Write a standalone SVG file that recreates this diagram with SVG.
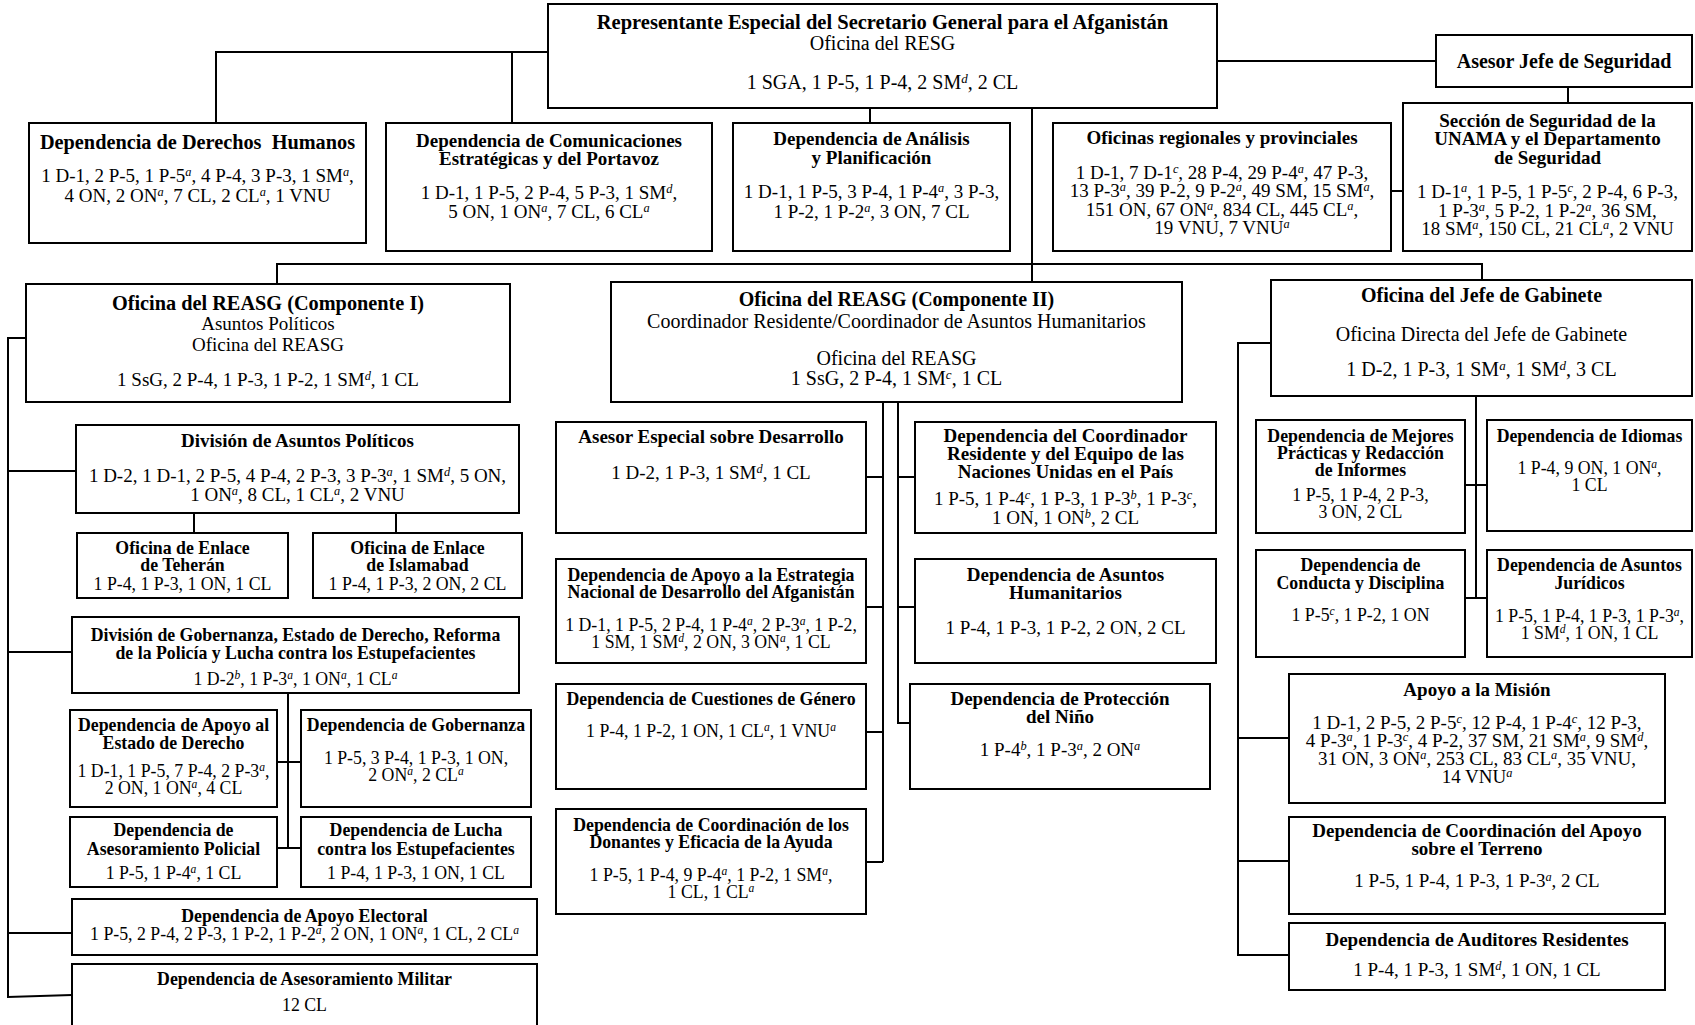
<svg xmlns="http://www.w3.org/2000/svg" width="1695" height="1025" viewBox="0 0 1695 1025">
<style>
.bx{fill:#fff;stroke:#000;stroke-width:2}
text{font-family:"Liberation Serif","Times New Roman",serif;text-anchor:middle;fill:#000}
.f20{font-size:20px}.f19{font-size:19px}.f18{font-size:17.8px}
.h{font-weight:bold}
.s{font-size:65%;font-style:italic}
#connectors path{fill:none;stroke:#000;stroke-width:2}
</style>
<rect width="1695" height="1025" fill="#fff"/>
<g id="connectors">
<path d="M216,123 V52 H548"/>
<path d="M512,52 V123"/>
<path d="M870,108 V123"/>
<path d="M1217,61 H1436"/>
<path d="M1568,87 V103"/>
<path d="M1391,191 H1403"/>
<path d="M1032,108 V282"/>
<path d="M277,284 V264 H1482 V280"/>
<path d="M26,338 H8 V997 L72,995"/>
<path d="M8,471 H76"/>
<path d="M8,652 H72"/>
<path d="M8,933 H72"/>
<path d="M194,513 V533"/>
<path d="M396,513 V533"/>
<path d="M288,693 V848"/>
<path d="M277,762 H301"/>
<path d="M277,848 H301"/>
<path d="M883,402 V862"/>
<path d="M866,477 H883"/>
<path d="M866,607 H883"/>
<path d="M866,732 H883"/>
<path d="M866,862 H883"/>
<path d="M898,402 V723 H910"/>
<path d="M898,477 H915"/>
<path d="M898,607 H915"/>
<path d="M1271,343 H1238 V955 H1289"/>
<path d="M1238,738 H1289"/>
<path d="M1238,861 H1289"/>
<path d="M1476,396 V598"/>
<path d="M1465,485 H1487"/>
<path d="M1465,598 H1487"/>
</g>

<g id="n-resg">
<rect class="bx" x="548" y="4" width="669" height="104"/>
<text class="h" style="font-size:20.5px" x="882.5" y="29">Representante Especial del Secretario General para el Afganistán</text>
<text class="f20" x="882.5" y="50">Oficina del RESG</text>
<text class="f20" x="882.5" y="89">1 SGA, 1 P-5, 1 P-4, 2 SM<tspan class="s" dy="-6">d</tspan><tspan dy="6">, 2 CL</tspan></text>
</g>

<g id="n-asesor-seguridad">
<rect class="bx" x="1436" y="35" width="256" height="52"/>
<text class="f20 h" x="1564" y="68">Asesor Jefe de Seguridad</text>
</g>

<g id="n-seccion-seguridad">
<rect class="bx" x="1403" y="103" width="289" height="148"/>
<text class="f19 h" x="1547.5" y="127">Sección de Seguridad de la</text>
<text class="f19 h" x="1547.5" y="145">UNAMA y el Departamento</text>
<text class="f19 h" x="1547.5" y="164">de Seguridad</text>
<text class="f19" x="1547.5" y="198">1 D-1<tspan class="s" dy="-6">a</tspan><tspan dy="6">, 1 P-5, 1 P-5</tspan><tspan class="s" dy="-6">c</tspan><tspan dy="6">, 2 P-4, 6 P-3,</tspan></text>
<text class="f19" x="1547.5" y="217">1 P-3<tspan class="s" dy="-6">a</tspan><tspan dy="6">, 5 P-2, 1 P-2</tspan><tspan class="s" dy="-6">a</tspan><tspan dy="6">, 36 SM,</tspan></text>
<text class="f19" x="1547.5" y="235">18 SM<tspan class="s" dy="-6">a</tspan><tspan dy="6">, 150 CL, 21 CL</tspan><tspan class="s" dy="-6">a</tspan><tspan dy="6">, 2 VNU</tspan></text>
</g>

<g id="n-oficinas-regionales">
<rect class="bx" x="1053" y="123" width="338" height="128"/>
<text class="f19 h" x="1222" y="144">Oficinas regionales y provinciales</text>
<text class="f19" x="1222" y="179">1 D-1, 7 D-1<tspan class="s" dy="-6">c</tspan><tspan dy="6">, 28 P-4, 29 P-4</tspan><tspan class="s" dy="-6">a</tspan><tspan dy="6">, 47 P-3,</tspan></text>
<text class="f19" x="1222" y="197">13 P-3<tspan class="s" dy="-6">a</tspan><tspan dy="6">, 39 P-2, 9 P-2</tspan><tspan class="s" dy="-6">a</tspan><tspan dy="6">, 49 SM, 15 SM</tspan><tspan class="s" dy="-6">a</tspan><tspan dy="6">,</tspan></text>
<text class="f19" x="1222" y="216">151 ON, 67 ON<tspan class="s" dy="-6">a</tspan><tspan dy="6">, 834 CL, 445 CL</tspan><tspan class="s" dy="-6">a</tspan><tspan dy="6">,</tspan></text>
<text class="f19" x="1222" y="234">19 VNU, 7 VNU<tspan class="s" dy="-6">a</tspan></text>
</g>

<g id="n-analisis">
<rect class="bx" x="733" y="123" width="277" height="128"/>
<text class="f19 h" x="871.5" y="145">Dependencia de Análisis</text>
<text class="f19 h" x="871.5" y="164">y Planificación</text>
<text class="f19" x="871.5" y="198">1 D-1, 1 P-5, 3 P-4, 1 P-4<tspan class="s" dy="-6">a</tspan><tspan dy="6">, 3 P-3,</tspan></text>
<text class="f19" x="871.5" y="218">1 P-2, 1 P-2<tspan class="s" dy="-6">a</tspan><tspan dy="6">, 3 ON, 7 CL</tspan></text>
</g>

<g id="n-comunicaciones">
<rect class="bx" x="386" y="123" width="326" height="128"/>
<text class="f19 h" x="549" y="147">Dependencia de Comunicaciones</text>
<text class="f19 h" x="549" y="165">Estratégicas y del Portavoz</text>
<text class="f19" x="549" y="199">1 D-1, 1 P-5, 2 P-4, 5 P-3, 1 SM<tspan class="s" dy="-6">d</tspan><tspan dy="6">,</tspan></text>
<text class="f19" x="549" y="218">5 ON, 1 ON<tspan class="s" dy="-6">a</tspan><tspan dy="6">, 7 CL, 6 CL</tspan><tspan class="s" dy="-6">a</tspan></text>
</g>

<g id="n-derechos-humanos">
<rect class="bx" x="29" y="123" width="337" height="120"/>
<text class="h" style="font-size:20.3px" x="197.5" y="149">Dependencia de Derechos&#160; Humanos</text>
<text class="f19" x="197.5" y="182">1 D-1, 2 P-5, 1 P-5<tspan class="s" dy="-6">a</tspan><tspan dy="6">, 4 P-4, 3 P-3, 1 SM</tspan><tspan class="s" dy="-6">a</tspan><tspan dy="6">,</tspan></text>
<text class="f19" x="197.5" y="202">4 ON, 2 ON<tspan class="s" dy="-6">a</tspan><tspan dy="6">, 7 CL, 2 CL</tspan><tspan class="s" dy="-6">a</tspan><tspan dy="6">, 1 VNU</tspan></text>
</g>

<g id="n-componente-1">
<rect class="bx" x="26" y="284" width="484" height="118"/>
<text class="h" style="font-size:20.3px" x="268" y="310">Oficina del REASG (Componente I)</text>
<text class="f19" x="268" y="330">Asuntos Políticos</text>
<text class="f19" x="268" y="351">Oficina del REASG</text>
<text class="f19" x="268" y="386">1 SsG, 2 P-4, 1 P-3, 1 P-2, 1 SM<tspan class="s" dy="-6">d</tspan><tspan dy="6">, 1 CL</tspan></text>
</g>

<g id="n-componente-2">
<rect class="bx" x="611" y="282" width="571" height="120"/>
<text class="f20 h" x="896.5" y="306">Oficina del REASG (Componente II)</text>
<text class="f20" x="896.5" y="328">Coordinador Residente/Coordinador de Asuntos Humanitarios</text>
<text class="f20" x="896.5" y="365">Oficina del REASG</text>
<text class="f20" x="896.5" y="385">1 SsG, 2 P-4, 1 SM<tspan class="s" dy="-6">c</tspan><tspan dy="6">, 1 CL</tspan></text>
</g>

<g id="n-jefe-gabinete">
<rect class="bx" x="1271" y="280" width="421" height="116"/>
<text class="f20 h" x="1481.5" y="302">Oficina del Jefe de Gabinete</text>
<text class="f20" x="1481.5" y="341">Oficina Directa del Jefe de Gabinete</text>
<text class="f20" x="1481.5" y="376">1 D-2, 1 P-3, 1 SM<tspan class="s" dy="-6">a</tspan><tspan dy="6">, 1 SM</tspan><tspan class="s" dy="-6">d</tspan><tspan dy="6">, 3 CL</tspan></text>
</g>

<g id="n-div-asuntos-politicos">
<rect class="bx" x="76" y="425" width="443" height="88"/>
<text class="f19 h" x="297.5" y="447">División de Asuntos Políticos</text>
<text class="f19" x="297.5" y="482">1 D-2, 1 D-1, 2 P-5, 4 P-4, 2 P-3, 3 P-3<tspan class="s" dy="-6">a</tspan><tspan dy="6">, 1 SM</tspan><tspan class="s" dy="-6">d</tspan><tspan dy="6">, 5 ON,</tspan></text>
<text class="f19" x="297.5" y="501">1 ON<tspan class="s" dy="-6">a</tspan><tspan dy="6">, 8 CL, 1 CL</tspan><tspan class="s" dy="-6">a</tspan><tspan dy="6">, 2 VNU</tspan></text>
</g>

<g id="n-teheran">
<rect class="bx" x="77" y="533" width="211" height="65"/>
<text class="f18 h" x="182.5" y="554">Oficina de Enlace</text>
<text class="f18 h" x="182.5" y="571">de Teherán</text>
<text class="f18" x="182.5" y="590">1 P-4, 1 P-3, 1 ON, 1 CL</text>
</g>

<g id="n-islamabad">
<rect class="bx" x="313" y="533" width="209" height="65"/>
<text class="f18 h" x="417.5" y="554">Oficina de Enlace</text>
<text class="f18 h" x="417.5" y="571">de Islamabad</text>
<text class="f18" x="417.5" y="590">1 P-4, 1 P-3, 2 ON, 2 CL</text>
</g>

<g id="n-div-gobernanza">
<rect class="bx" x="72" y="617" width="447" height="76"/>
<text class="f18 h" x="295.5" y="641">División de Gobernanza, Estado de Derecho, Reforma</text>
<text class="f18 h" x="295.5" y="659">de la Policía y Lucha contra los Estupefacientes</text>
<text class="f18" x="295.5" y="685">1 D-2<tspan class="s" dy="-6">b</tspan><tspan dy="6">, 1 P-3</tspan><tspan class="s" dy="-6">a</tspan><tspan dy="6">, 1 ON</tspan><tspan class="s" dy="-6">a</tspan><tspan dy="6">, 1 CL</tspan><tspan class="s" dy="-6">a</tspan></text>
</g>

<g id="n-estado-derecho">
<rect class="bx" x="70" y="710" width="207" height="97"/>
<text class="f18 h" x="173.5" y="731">Dependencia de Apoyo al</text>
<text class="f18 h" x="173.5" y="749">Estado de Derecho</text>
<text class="f18" x="173.5" y="777">1 D-1, 1 P-5, 7 P-4, 2 P-3<tspan class="s" dy="-6">a</tspan><tspan dy="6">,</tspan></text>
<text class="f18" x="173.5" y="794">2 ON, 1 ON<tspan class="s" dy="-6">a</tspan><tspan dy="6">, 4 CL</tspan></text>
</g>

<g id="n-gobernanza">
<rect class="bx" x="301" y="710" width="230" height="97"/>
<text class="f18 h" x="416" y="731">Dependencia de Gobernanza</text>
<text class="f18" x="416" y="764">1 P-5, 3 P-4, 1 P-3, 1 ON,</text>
<text class="f18" x="416" y="781">2 ON<tspan class="s" dy="-6">a</tspan><tspan dy="6">, 2 CL</tspan><tspan class="s" dy="-6">a</tspan></text>
</g>

<g id="n-policial">
<rect class="bx" x="70" y="817" width="207" height="70"/>
<text class="f18 h" x="173.5" y="836">Dependencia de</text>
<text class="f18 h" x="173.5" y="855">Asesoramiento Policial</text>
<text class="f18" x="173.5" y="879">1 P-5, 1 P-4<tspan class="s" dy="-6">a</tspan><tspan dy="6">, 1 CL</tspan></text>
</g>

<g id="n-estupefacientes">
<rect class="bx" x="301" y="817" width="230" height="70"/>
<text class="f18 h" x="416" y="836">Dependencia de Lucha</text>
<text class="f18 h" x="416" y="855">contra los Estupefacientes</text>
<text class="f18" x="416" y="879">1 P-4, 1 P-3, 1 ON, 1 CL</text>
</g>

<g id="n-electoral">
<rect class="bx" x="72" y="899" width="465" height="56"/>
<text class="f18 h" x="304.5" y="922">Dependencia de Apoyo Electoral</text>
<text class="f18" x="304.5" y="940">1 P-5, 2 P-4, 2 P-3, 1 P-2, 1 P-2<tspan class="s" dy="-6">a</tspan><tspan dy="6">, 2 ON, 1 ON</tspan><tspan class="s" dy="-6">a</tspan><tspan dy="6">, 1 CL, 2 CL</tspan><tspan class="s" dy="-6">a</tspan></text>
</g>

<g id="n-militar">
<rect class="bx" x="72" y="964" width="465" height="70"/>
<text class="f18 h" x="304.5" y="985">Dependencia de Asesoramiento Militar</text>
<text class="f18" x="304.5" y="1011">12 CL</text>
</g>

<g id="n-asesor-desarrollo">
<rect class="bx" x="556" y="422" width="310" height="111"/>
<text class="f19 h" x="711" y="443">Asesor Especial sobre Desarrollo</text>
<text class="f19" x="711" y="479">1 D-2, 1 P-3, 1 SM<tspan class="s" dy="-6">d</tspan><tspan dy="6">, 1 CL</tspan></text>
</g>

<g id="n-coordinador-residente">
<rect class="bx" x="915" y="422" width="301" height="111"/>
<text class="f19 h" x="1065.5" y="442">Dependencia del Coordinador</text>
<text class="f19 h" x="1065.5" y="460">Residente y del Equipo de las</text>
<text class="f19 h" x="1065.5" y="478">Naciones Unidas en el País</text>
<text class="f19" x="1065.5" y="505">1 P-5, 1 P-4<tspan class="s" dy="-6">c</tspan><tspan dy="6">, 1 P-3, 1 P-3</tspan><tspan class="s" dy="-6">b</tspan><tspan dy="6">, 1 P-3</tspan><tspan class="s" dy="-6">c</tspan><tspan dy="6">,</tspan></text>
<text class="f19" x="1065.5" y="524">1 ON, 1 ON<tspan class="s" dy="-6">b</tspan><tspan dy="6">, 2 CL</tspan></text>
</g>

<g id="n-estrategia">
<rect class="bx" x="556" y="559" width="310" height="104"/>
<text class="f18 h" x="711" y="581">Dependencia de Apoyo a la Estrategia</text>
<text class="f18 h" x="711" y="598">Nacional de Desarrollo del Afganistán</text>
<text class="f18" x="711" y="631">1 D-1, 1 P-5, 2 P-4, 1 P-4<tspan class="s" dy="-6">a</tspan><tspan dy="6">, 2 P-3</tspan><tspan class="s" dy="-6">a</tspan><tspan dy="6">, 1 P-2,</tspan></text>
<text class="f18" x="711" y="648">1 SM, 1 SM<tspan class="s" dy="-6">d</tspan><tspan dy="6">, 2 ON, 3 ON</tspan><tspan class="s" dy="-6">a</tspan><tspan dy="6">, 1 CL</tspan></text>
</g>

<g id="n-humanitarios">
<rect class="bx" x="915" y="559" width="301" height="104"/>
<text class="f19 h" x="1065.5" y="581">Dependencia de Asuntos</text>
<text class="f19 h" x="1065.5" y="599">Humanitarios</text>
<text class="f19" x="1065.5" y="634">1 P-4, 1 P-3, 1 P-2, 2 ON, 2 CL</text>
</g>

<g id="n-genero">
<rect class="bx" x="556" y="684" width="310" height="105"/>
<text class="f18 h" x="711" y="705">Dependencia de Cuestiones de Género</text>
<text class="f18" x="711" y="737">1 P-4, 1 P-2, 1 ON, 1 CL<tspan class="s" dy="-6">a</tspan><tspan dy="6">, 1 VNU</tspan><tspan class="s" dy="-6">a</tspan></text>
</g>

<g id="n-proteccion">
<rect class="bx" x="910" y="684" width="300" height="105"/>
<text class="f19 h" x="1060" y="705">Dependencia de Protección</text>
<text class="f19 h" x="1060" y="723">del Niño</text>
<text class="f19" x="1060" y="756">1 P-4<tspan class="s" dy="-6">b</tspan><tspan dy="6">, 1 P-3</tspan><tspan class="s" dy="-6">a</tspan><tspan dy="6">, 2 ON</tspan><tspan class="s" dy="-6">a</tspan></text>
</g>

<g id="n-donantes">
<rect class="bx" x="556" y="809" width="310" height="105"/>
<text class="f18 h" x="711" y="831">Dependencia de Coordinación de los</text>
<text class="f18 h" x="711" y="848">Donantes y Eficacia de la Ayuda</text>
<text class="f18" x="711" y="881">1 P-5, 1 P-4, 9 P-4<tspan class="s" dy="-6">a</tspan><tspan dy="6">, 1 P-2, 1 SM</tspan><tspan class="s" dy="-6">a</tspan><tspan dy="6">,</tspan></text>
<text class="f18" x="711" y="898">1 CL, 1 CL<tspan class="s" dy="-6">a</tspan></text>
</g>

<g id="n-mejores-practicas">
<rect class="bx" x="1256" y="420" width="209" height="113"/>
<text class="f18 h" x="1360.5" y="442">Dependencia de Mejores</text>
<text class="f18 h" x="1360.5" y="459">Prácticas y Redacción</text>
<text class="f18 h" x="1360.5" y="476">de Informes</text>
<text class="f18" x="1360.5" y="501">1 P-5, 1 P-4, 2 P-3,</text>
<text class="f18" x="1360.5" y="518">3 ON, 2 CL</text>
</g>

<g id="n-idiomas">
<rect class="bx" x="1487" y="420" width="205" height="111"/>
<text class="f18 h" x="1589.5" y="442">Dependencia de Idiomas</text>
<text class="f18" x="1589.5" y="474">1 P-4, 9 ON, 1 ON<tspan class="s" dy="-6">a</tspan><tspan dy="6">,</tspan></text>
<text class="f18" x="1589.5" y="491">1 CL</text>
</g>

<g id="n-conducta">
<rect class="bx" x="1256" y="550" width="209" height="107"/>
<text class="f18 h" x="1360.5" y="571">Dependencia de</text>
<text class="f18 h" x="1360.5" y="589">Conducta y Disciplina</text>
<text class="f18" x="1360.5" y="621">1 P-5<tspan class="s" dy="-6">c</tspan><tspan dy="6">, 1 P-2, 1 ON</tspan></text>
</g>

<g id="n-juridicos">
<rect class="bx" x="1487" y="550" width="205" height="107"/>
<text class="f18 h" x="1589.5" y="571">Dependencia de Asuntos</text>
<text class="f18 h" x="1589.5" y="589">Jurídicos</text>
<text class="f18" x="1589.5" y="622">1 P-5, 1 P-4, 1 P-3, 1 P-3<tspan class="s" dy="-6">a</tspan><tspan dy="6">,</tspan></text>
<text class="f18" x="1589.5" y="639">1 SM<tspan class="s" dy="-6">d</tspan><tspan dy="6">, 1 ON, 1 CL</tspan></text>
</g>

<g id="n-apoyo-mision">
<rect class="bx" x="1289" y="674" width="376" height="129"/>
<text class="f19 h" x="1477" y="696">Apoyo a la Misión</text>
<text class="f19" x="1477" y="729">1 D-1, 2 P-5, 2 P-5<tspan class="s" dy="-6">c</tspan><tspan dy="6">, 12 P-4, 1 P-4</tspan><tspan class="s" dy="-6">c</tspan><tspan dy="6">, 12 P-3,</tspan></text>
<text class="f19" x="1477" y="747">4 P-3<tspan class="s" dy="-6">a</tspan><tspan dy="6">, 1 P-3</tspan><tspan class="s" dy="-6">c</tspan><tspan dy="6">, 4 P-2, 37 SM, 21 SM</tspan><tspan class="s" dy="-6">a</tspan><tspan dy="6">, 9 SM</tspan><tspan class="s" dy="-6">d</tspan><tspan dy="6">,</tspan></text>
<text class="f19" x="1477" y="765">31 ON, 3 ON<tspan class="s" dy="-6">a</tspan><tspan dy="6">, 253 CL, 83 CL</tspan><tspan class="s" dy="-6">a</tspan><tspan dy="6">, 35 VNU,</tspan></text>
<text class="f19" x="1477" y="783">14 VNU<tspan class="s" dy="-6">a</tspan></text>
</g>

<g id="n-apoyo-terreno">
<rect class="bx" x="1289" y="817" width="376" height="97"/>
<text class="f19 h" x="1477" y="837">Dependencia de Coordinación del Apoyo</text>
<text class="f19 h" x="1477" y="855">sobre el Terreno</text>
<text class="f19" x="1477" y="887">1 P-5, 1 P-4, 1 P-3, 1 P-3<tspan class="s" dy="-6">a</tspan><tspan dy="6">, 2 CL</tspan></text>
</g>

<g id="n-auditores">
<rect class="bx" x="1289" y="923" width="376" height="67"/>
<text class="f19 h" x="1477" y="946">Dependencia de Auditores Residentes</text>
<text class="f19" x="1477" y="976">1 P-4, 1 P-3, 1 SM<tspan class="s" dy="-6">d</tspan><tspan dy="6">, 1 ON, 1 CL</tspan></text>
</g>
</svg>
